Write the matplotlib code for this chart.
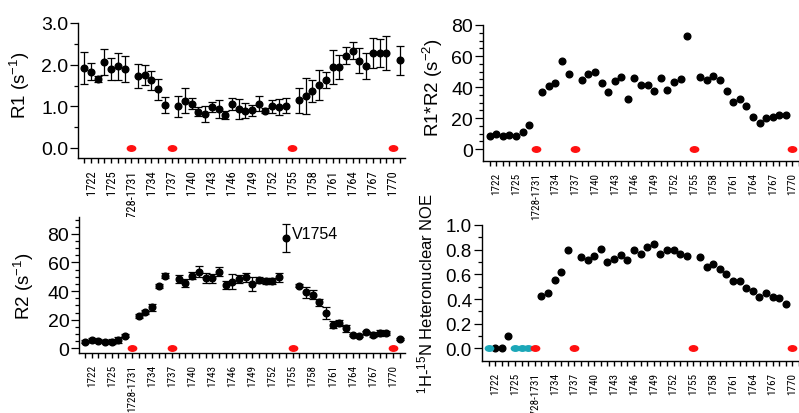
import numpy as np
import matplotlib
matplotlib.use('Agg')
import matplotlib.pyplot as plt
from matplotlib import font_manager as fm
from matplotlib.path import Path
from matplotlib.textpath import TextPath
from matplotlib.transforms import Affine2D

plt.rcParams['font.family'] = ['Liberation Sans', 'DejaVu Sans']
plt.rcParams['mathtext.fontset'] = 'custom'
plt.rcParams['mathtext.rm'] = 'Liberation Sans'
plt.rcParams['mathtext.it'] = 'Liberation Sans:italic'

nan = np.nan

#### Residue positions (1728-1731 collapsed into one slot)
residues = [str(r) for r in range(1721, 1728)] + ['1728-1731'] + [str(r) for r in range(1732, 1772)]
proline_res = ['1728-1731', '1737', '1755', '1770']
noe_cyan_res = ['1721', '1725', '1726', '1727']

#### R1 (s^-1) and errors
r1 = [1.92, 1.83, 1.66, 2.06, 1.90, 1.96, 1.90, nan, 1.72, 1.75, 1.63, 1.41, 1.03, nan,
      1.00, 1.14, 1.06, 0.87, 0.82, 0.98, 0.94, 0.79, 1.06, 0.94, 0.90, 0.91, 1.06, 0.90,
      1.00, 0.99, 1.02, nan, 1.15, 1.24, 1.37, 1.51, 1.64, 1.94, 1.94, 2.22, 2.34, 2.10,
      1.96, 2.28, 2.28, 2.28, nan, 2.11]
r1_err = [0.39, 0.20, 0.07, 0.31, 0.27, 0.32, 0.31, nan, 0.29, 0.24, 0.23, 0.25, 0.20, nan,
          0.25, 0.30, 0.13, 0.11, 0.20, 0.12, 0.22, 0.10, 0.15, 0.24, 0.17, 0.13, 0.18, 0.05,
          0.16, 0.19, 0.19, nan, 0.30, 0.43, 0.26, 0.36, 0.19, 0.41, 0.29, 0.20, 0.21, 0.31,
          0.31, 0.35, 0.33, 0.40, nan, 0.35]

#### R2 (s^-1) and errors
r2 = [4.7, 5.8, 5.4, 4.7, 4.7, 5.8, 8.9, nan, 22.8, 25.2, 28.7, 43.8, 50.8, nan,
      48.5, 45.7, 50.8, 53.6, 49.2, 49.0, 53.6, 44.3, 46.6, 48.5, 49.7, 45.0, 47.8, 46.9,
      47.3, 49.7, 77.2, nan, 43.8, 39.2, 37.5, 32.2, 24.7, 16.6, 17.5, 14.0, 9.3, 8.6,
      11.2, 9.6, 10.5, 10.5, nan, 6.5]
r2_err = [1.0, 1.5, 1.0, 1.0, 1.5, 2.0, 1.0, nan, 1.5, 1.5, 2.5, 1.5, 1.5, nan,
          2.5, 3.0, 2.5, 4.0, 3.5, 3.0, 3.0, 3.0, 5.0, 3.0, 3.0, 5.0, 2.0, 2.0,
          2.0, 3.0, 10.0, nan, 1.0, 4.0, 3.0, 2.5, 4.0, 2.5, 2.0, 2.5, 1.0, 1.0,
          1.0, 1.5, 2.0, 1.5, nan, 1.0]

#### R1*R2 (s^-2)
r1r2 = [8.6, 9.7, 8.6, 9.0, 8.6, 10.8, 15.7, nan, 36.6, 40.9, 42.4, 57.0, 48.4, nan,
        44.7, 48.4, 49.5, 42.4, 37.0, 43.9, 46.2, 32.3, 45.8, 41.5, 41.3, 37.6, 46.0, 38.3,
        43.0, 45.2, 73.1, nan, 46.7, 44.5, 46.9, 44.7, 37.2, 30.5, 32.3, 28.0, 20.9, 16.8,
        20.0, 20.4, 21.9, 22.2, nan, nan]

#### 1H-15N heteronuclear NOE
noe = [0.0, 0.0, 0.0, 0.097, 0.0, 0.0, 0.0, nan, 0.427, 0.446, 0.551, 0.616, 0.80, nan,
       0.743, 0.716, 0.749, 0.803, 0.70, 0.727, 0.759, 0.719, 0.795, 0.768, 0.819, 0.849, 0.768, 0.795,
       0.797, 0.765, 0.749, nan, 0.738, 0.657, 0.684, 0.643, 0.605, 0.546, 0.546, 0.492, 0.468, 0.414,
       0.449, 0.416, 0.405, 0.359, nan, nan]

xpos = np.arange(len(residues))
pro_x = [residues.index(r) for r in proline_res]
cyan_x = [residues.index(r) for r in noe_cyan_res]
noe = np.array(noe)
black_mask = np.ones(len(residues), bool)
black_mask[cyan_x] = False

#### Residue labels use a narrow face; size it so '1728-1731' is ~44 px long
installed = {f.name for f in fm.fontManager.ttflist}
xfont = 'Liberation Sans'
for cand in ['Liberation Sans Narrow', 'Roboto Condensed', 'Archivo Narrow',
             'Fira Sans Condensed', 'IBM Plex Sans Condensed', 'Barlow Condensed']:
    if cand in installed:
        xfont = cand
        break
w10 = TextPath((0, 0), '1728-1731', size=10, prop=fm.FontProperties(family=xfont)).get_extents().width
xsize = 10 * (44 * 0.72) / w10

# flattened ellipse marker for the red/cyan dots
ell = Path.unit_circle().transformed(Affine2D().scale(1.0, 0.66))

W, H = 799, 414
fig = plt.figure(figsize=(W / 100, H / 100), dpi=100)


def rect(x0, y0, x1, y1):
    return [x0 / W, 1 - y1 / H, (x1 - x0) / W, (y1 - y0) / H]


def style(ax, xlim, ylim, major, minor, fmt, ysize, xscale=1.0):
    ax.spines['top'].set_visible(False)
    ax.spines['right'].set_visible(False)
    for s in ['left', 'bottom']:
        ax.spines[s].set_linewidth(1.0)
    ax.set_xlim(*xlim)
    ax.set_ylim(*ylim)
    ax.set_xticks(xpos[1::3])
    ax.set_xticklabels([residues[i] for i in xpos[1::3]], rotation=90,
                       fontsize=xsize * xscale, family=xfont)
    ax.set_xticks(xpos, minor=True)
    ax.tick_params(axis='x', which='both', direction='out', length=3.4, width=1.0, pad=4.5)
    yt = np.arange(0, ylim[1] + 1e-6, major)
    ax.set_yticks(yt)
    ax.set_yticklabels([fmt.format(v) for v in yt], fontsize=ysize)
    ax.set_yticks(np.arange(0, ylim[1] + 1e-6, minor), minor=True)
    ax.tick_params(axis='y', which='major', direction='out', length=5.5, width=0.9, pad=1.5)
    ax.tick_params(axis='y', which='minor', direction='out', length=3, width=0.9)
    ax.plot(pro_x, [0] * len(pro_x), ls='none', marker=ell, ms=6, color='#ff1010', zorder=5)


eb = dict(fmt='o', color='black', ms=4.8, capsize=2.6, elinewidth=0.9, capthick=0.9)

#### R1
ax1 = fig.add_axes(rect(78.3, 24, 405, 159))
ax1.errorbar(xpos, r1, yerr=r1_err, **eb)
style(ax1, (-0.9, 47.8), (-0.24, 3.0), 1.0, 0.5, '{:.1f}', 14, xscale=1.12)
ax1.set_ylabel('R1 (s$^{-1}$)', fontsize=13.5)
ax1.yaxis.set_label_coords(-0.142, 0.55)

#### R1*R2
ax2 = fig.add_axes(rect(482.7, 26, 799, 162))
ax2.plot(xpos, r1r2, ls='none', marker='o', ms=4.8, color='black')
style(ax2, (-1.05, 46.2), (-7.7, 80), 20, 5, '{:.0f}', 14)
ax2.set_ylabel('R1*R2 (s$^{-2}$)', fontsize=13.5)
ax2.yaxis.set_label_coords(-0.119, 0.55)

#### R2
ax3 = fig.add_axes(rect(79, 218.3, 405, 354))
ax3.errorbar(xpos, r2, yerr=r2_err, **eb)
style(ax3, (-0.9, 47.8), (-3.3, 91.6), 20, 5, '{:.0f}', 14)
ax3.set_ylabel('R2 (s$^{-1}$)', fontsize=13.5)
ax3.yaxis.set_label_coords(-0.132, 0.5)
ax3.text(xpos[residues.index('1754')] + 0.9, r2[residues.index('1754')] + 3, 'V1754',
         fontsize=11.5, ha='left', va='center')

#### NOE
ax4 = fig.add_axes(rect(481.7, 226, 799, 361.7))
ax4.plot(xpos[black_mask], noe[black_mask], ls='none', marker='o', ms=4.8, color='black')
ax4.plot(cyan_x, noe[cyan_x], ls='none', marker=ell, ms=6, color='#1ba7b8', zorder=4)
style(ax4, (-1.05, 46.2), (-0.1, 1.0), 0.2, 0.1, '{:.1f}', 13.5)
ax4.set_ylabel('$^{1}$H-$^{15}$N Heteronuclear NOE', fontsize=12)
ax4.yaxis.set_label_coords(-0.147, 0.5)

fig.savefig('out.png', dpi=100)
